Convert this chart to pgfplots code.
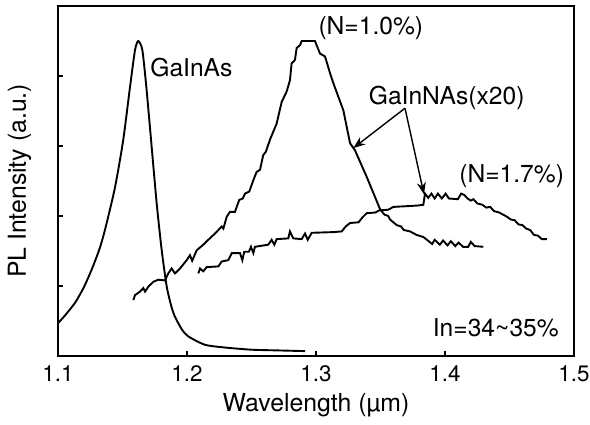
\documentclass[border=0pt]{standalone}
\usepackage{pgfplots}
\pgfplotsset{compat=1.18}
\usepackage{fontspec}
\setmainfont{TeX Gyre Heros}
\usetikzlibrary{arrows.meta}
\begin{document}
\begin{tikzpicture}
\useasboundingbox (-29pt,-34pt) rectangle (266pt,178pt);
\begin{axis}[
  scale only axis,
  width=258pt, height=175pt,
  xmin=1.1, xmax=1.5, ymin=0, ymax=5,
  xtick={1.1,1.2,1.3,1.4,1.5},
  ytick={1,2,3,4}, yticklabels={},
  xtick pos=left, ytick pos=left,
  tick align=inside,
  major tick length=2.5pt,
  axis line style={line width=0.9pt},
  tick style={line width=0.7pt, black},
  /pgf/number format/assume math mode=true,
  /pgf/number format/.cd, fixed, precision=1, fixed zerofill,
  /pgfplots/.cd,
  xticklabel style={font=\fontsize{11.2}{13}\selectfont, yshift=-1.5pt},
  xlabel={Wavelength (µm)},
  ylabel={PL Intensity (a.u.)},
  label style={font=\fontsize{12.4}{14}\selectfont},
  xlabel style={yshift=1.5pt},
  ylabel style={yshift=3pt},
]
% GaInAs
\addplot[black, line width=0.95pt, no markers, smooth, tension=0.4] coordinates {
(1.1000,0.47) (1.1050,0.57) (1.1132,0.76) (1.1200,0.98) (1.1260,1.23) (1.1320,1.52)
(1.1364,1.80) (1.1442,2.41) (1.1506,3.09) (1.1558,3.84) (1.1597,4.37) (1.1622,4.50)
(1.1654,4.37) (1.1687,3.80) (1.1726,2.99) (1.1765,2.18) (1.1804,1.51) (1.1843,0.99)
(1.1880,0.70) (1.1907,0.56) (1.1960,0.38) (1.2010,0.28) (1.2140,0.16) (1.2300,0.12)
(1.2500,0.09) (1.2700,0.08) (1.2915,0.07)
};
% GaInNAs N=1.0%
\addplot[black, line width=0.95pt, no markers] coordinates {
(1.1584,0.80) (1.1597,0.87) (1.1636,0.92) (1.1661,0.97) (1.1675,0.92) (1.1700,0.99)
(1.1739,1.06) (1.1778,1.09) (1.1829,1.08) (1.1855,1.18) (1.1881,1.25) (1.1907,1.18)
(1.1946,1.25) (1.1998,1.37) (1.2023,1.44) (1.2040,1.36) (1.2075,1.51) (1.2126,1.59)
(1.2165,1.66) (1.2217,1.75) (1.2269,1.85) (1.2282,1.82) (1.2308,1.99) (1.2333,2.06)
(1.2372,2.06) (1.2405,2.23) (1.2432,2.25) (1.2450,2.32) (1.2483,2.35) (1.2514,2.51)
(1.2540,2.63) (1.2566,2.66) (1.2591,2.87) (1.2612,2.92) (1.2643,3.09) (1.2695,3.32)
(1.2734,3.63) (1.2773,3.78) (1.2798,3.94) (1.2811,4.18) (1.2837,4.23) (1.2850,4.40)
(1.2876,4.44) (1.2889,4.50) (1.2992,4.50) (1.3031,4.32) (1.3070,4.28) (1.3109,4.04)
(1.3134,3.90) (1.3212,3.51) (1.3264,3.04) (1.3302,2.94) (1.3393,2.56) (1.3496,2.10)
(1.3530,2.02) (1.3560,2.00) (1.3574,1.95) (1.3626,1.87) (1.3660,1.85) (1.3680,1.80)
(1.3729,1.78) (1.3780,1.73) (1.3832,1.70) (1.3860,1.66) (1.3900,1.60) (1.3920,1.66)
(1.3960,1.59) (1.3985,1.65) (1.4020,1.58) (1.4045,1.64) (1.4080,1.57) (1.4105,1.62)
(1.4140,1.56) (1.4180,1.56) (1.4200,1.63) (1.4230,1.57) (1.4297,1.56)
};
% GaInNAs N=1.7%
\addplot[black, line width=0.95pt, no markers] coordinates {
(1.2088,1.18) (1.2101,1.25) (1.2126,1.21) (1.2153,1.27) (1.2243,1.28) (1.2269,1.35)
(1.2320,1.37) (1.2347,1.47) (1.2411,1.47) (1.2429,1.37) (1.2444,1.49) (1.2480,1.49)
(1.2496,1.56) (1.2514,1.47) (1.2527,1.56) (1.2630,1.59) (1.2656,1.66) (1.2677,1.59)
(1.2695,1.67) (1.2785,1.68) (1.2798,1.78) (1.2824,1.68) (1.2889,1.67) (1.2915,1.75)
(1.2936,1.66) (1.2967,1.76) (1.3134,1.77) (1.3200,1.78) (1.3230,1.85) (1.3264,1.90)
(1.3330,1.91) (1.3360,1.98) (1.3393,2.04) (1.3460,2.05) (1.3490,2.08) (1.3560,2.09)
(1.3600,2.13) (1.3700,2.14) (1.3790,2.15) (1.3832,2.16) (1.3845,2.32) (1.3870,2.26)
(1.3895,2.32) (1.3920,2.25) (1.3945,2.32) (1.3975,2.25) (1.4005,2.32) (1.4030,2.25)
(1.4100,2.24) (1.4125,2.32) (1.4150,2.30) (1.4175,2.25) (1.4200,2.22) (1.4220,2.24)
(1.4250,2.18) (1.4290,2.16) (1.4320,2.12) (1.4350,2.13) (1.4380,2.07) (1.4420,2.05)
(1.4450,2.02) (1.4480,1.99) (1.4510,1.95) (1.4540,1.94) (1.4570,1.88) (1.4600,1.87)
(1.4630,1.82) (1.4660,1.80) (1.4690,1.73) (1.4720,1.72) (1.4750,1.67) (1.4790,1.67)
};
\node[anchor=west, inner sep=0pt, font=\fontsize{12.3}{14}\selectfont] at (axis cs:1.1713,4.12) {GaInAs};
\node[font=\fontsize{12.3}{14}\selectfont] at (axis cs:1.3425,4.69) {(N=1.0\%)};
\node[font=\fontsize{12.3}{14}\selectfont] at (axis cs:1.4013,3.69) {GaInNAs(x20)};
\node[font=\fontsize{12.3}{14}\selectfont] at (axis cs:1.4517,2.57) {(N=1.7\%)};
\node[font=\fontsize{12.3}{14}\selectfont] at (axis cs:1.4394,0.40) {In=34\textasciitilde35\%};
\draw[line width=0.7pt, -{Stealth[length=6pt,width=4.5pt]}] (axis cs:1.3690,3.54) -- (axis cs:1.3289,2.97);
\draw[line width=0.7pt, -{Stealth[length=6pt,width=4.5pt]}] (axis cs:1.3690,3.54) -- (axis cs:1.3837,2.31);
\end{axis}
\end{tikzpicture}
\end{document}
